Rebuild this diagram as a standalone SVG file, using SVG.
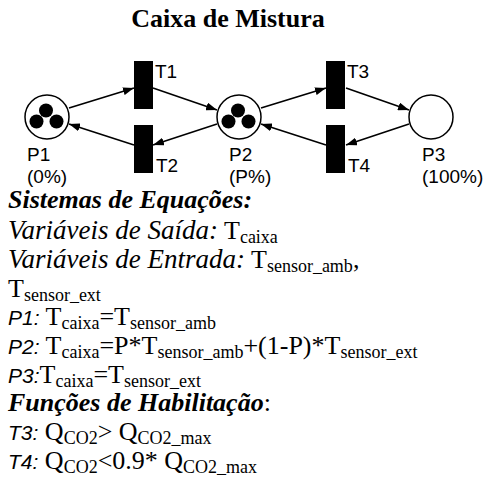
<svg xmlns="http://www.w3.org/2000/svg" width="488" height="493" viewBox="0 0 488 493">
<style>
.place{fill:#fff;stroke:#000;stroke-width:1.5}
.token{fill:#000}
.trans{fill:#000}
.lbl{font-family:"Liberation Sans",Arial,sans-serif;font-size:19px;fill:#000}
.arc{stroke:#000;stroke-width:1.6;fill:none;marker-end:url(#ah)}
.serif{font-family:"Liberation Serif","Times New Roman",serif;font-size:26px;fill:#000}
.sub{font-size:18px}
.sansi{font-family:"Liberation Sans",Arial,sans-serif;font-style:italic;font-size:21px}
.bi{font-weight:bold;font-style:italic}
.it{font-style:italic;font-size:27px}
</style>
<defs>
<marker id="ah" markerUnits="userSpaceOnUse" markerWidth="12" markerHeight="8" refX="11" refY="4" orient="auto">
<path d="M0,0 L11,4 L0,8 z" fill="#000"/>
</marker>
</defs>
<rect width="488" height="493" fill="#fff"/>
<text class="serif" x="228" y="27" text-anchor="middle" font-weight="bold">Caixa de Mistura</text>
<g id="connectors">
<line class="arc" x1="69" y1="108" x2="134" y2="88"/>
<line class="arc" x1="153" y1="88" x2="217" y2="110"/>
<line class="arc" x1="217" y1="124" x2="153" y2="145"/>
<line class="arc" x1="134" y1="145" x2="69" y2="124"/>
<line class="arc" x1="261" y1="108" x2="326" y2="88"/>
<line class="arc" x1="346" y1="88" x2="409" y2="110"/>
<line class="arc" x1="409" y1="124" x2="346" y2="145"/>
<line class="arc" x1="326" y1="145" x2="261" y2="124"/>
</g>
<g id="P1">
<circle class="place" cx="47" cy="117" r="22"/>
<circle class="token" cx="46" cy="110.5" r="7"/>
<circle class="token" cx="36.5" cy="121.5" r="7"/>
<circle class="token" cx="56.5" cy="121.5" r="7"/>
<text class="lbl" x="27" y="161">P1</text>
<text class="lbl" x="27" y="183">(0%)</text>
</g>
<g id="P2">
<circle class="place" cx="239" cy="117" r="22"/>
<circle class="token" cx="238" cy="110.5" r="7"/>
<circle class="token" cx="228.5" cy="121.5" r="7"/>
<circle class="token" cx="248.5" cy="121.5" r="7"/>
<text class="lbl" x="229" y="161">P2</text>
<text class="lbl" x="229" y="183">(P%)</text>
</g>
<g id="P3">
<circle class="place" cx="431" cy="117" r="22"/>
<text class="lbl" x="422" y="161">P3</text>
<text class="lbl" x="422" y="183">(100%)</text>
</g>
<g id="T1">
<rect class="trans" x="134" y="61" width="19" height="48"/>
<text class="lbl" x="155" y="78">T1</text>
</g>
<g id="T2">
<rect class="trans" x="134" y="125" width="19" height="48"/>
<text class="lbl" x="156" y="172">T2</text>
</g>
<g id="T3">
<rect class="trans" x="326" y="61" width="19" height="48"/>
<text class="lbl" x="347" y="78">T3</text>
</g>
<g id="T4">
<rect class="trans" x="326" y="125" width="19" height="48"/>
<text class="lbl" x="348" y="172">T4</text>
</g>
<g id="equations">
<text class="serif bi" x="8" y="208" font-size="26.5">Sistemas de Equações:</text>
<text class="serif" x="8" y="239"><tspan class="it">Variáveis de Saída:</tspan> T<tspan class="sub" dy="4">caixa</tspan></text>
<text class="serif" x="8" y="268"><tspan class="it">Variáveis de Entrada:</tspan> T<tspan class="sub" dy="4">sensor_amb</tspan><tspan dy="-4">,</tspan></text>
<text class="serif" x="8" y="297">T<tspan class="sub" dy="4">sensor_ext</tspan></text>
<text class="serif" x="8" y="325"><tspan class="sansi">P1:</tspan> T<tspan class="sub" dy="4">caixa</tspan><tspan dy="-4">=T</tspan><tspan class="sub" dy="4">sensor_amb</tspan></text>
<text class="serif" x="8" y="354"><tspan class="sansi">P2:</tspan> T<tspan class="sub" dy="4">caixa</tspan><tspan dy="-4">=P*T</tspan><tspan class="sub" dy="4">sensor_amb</tspan><tspan dy="-4">+(1-P)*T</tspan><tspan class="sub" dy="4">sensor_ext</tspan></text>
<text class="serif" x="8" y="383"><tspan class="sansi">P3:</tspan>T<tspan class="sub" dy="4">caixa</tspan><tspan dy="-4">=T</tspan><tspan class="sub" dy="4">sensor_ext</tspan></text>
<text class="serif" x="8" y="411"><tspan class="bi">Funções de Habilitação</tspan>:</text>
<text class="serif" x="8" y="440"><tspan class="sansi">T3:</tspan> Q<tspan class="sub" dy="4">CO2</tspan><tspan dy="-4">&gt; Q</tspan><tspan class="sub" dy="4">CO2_max</tspan></text>
<text class="serif" x="8" y="469"><tspan class="sansi">T4:</tspan> Q<tspan class="sub" dy="4">CO2</tspan><tspan dy="-4">&lt;0.9* Q</tspan><tspan class="sub" dy="4">CO2_max</tspan></text>
</g>
</svg>
